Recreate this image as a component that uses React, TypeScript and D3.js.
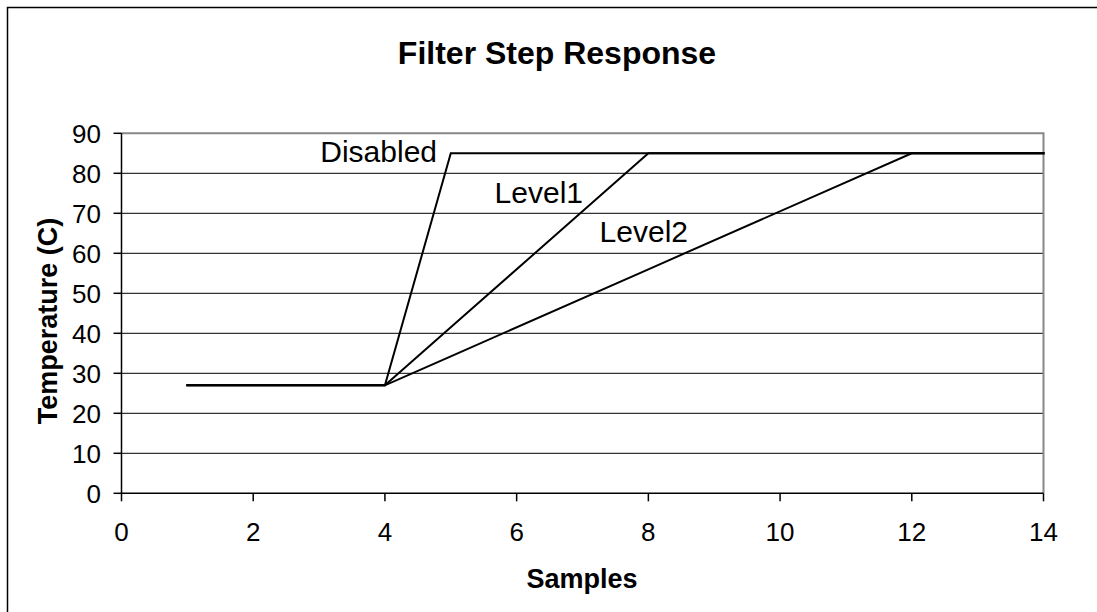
import * as d3 from "d3";

const W = 1097;
const H = 612;

// series: x = sample, y = temperature
const samples = [1, 4, 5, 8, 12, 14];
const disabled = [27, 27, 85, 85, 85, 85];
const level1 = [27, 27, 41.5, 85, 85, 85];
const level2 = [27, 27, 34.25, 56, 85, 85];
const seriesNames = ["Disabled", "Level1", "Level2"];
const seriesLabelPos = [
	{ x: 437, y: 162 },
	{ x: 583, y: 203 },
	{ x: 688, y: 242 },
];
const yTicks = [0, 10, 20, 30, 40, 50, 60, 70, 80, 90];
const xTicks = [0, 2, 4, 6, 8, 10, 12, 14];

const plot = { left: 121.5, right: 1043.5, top: 133.3, bottom: 493.3 };
const font = "'Liberation Sans', Arial, sans-serif";

export default function App() {
	const x = d3.scaleLinear().domain([0, 14]).range([plot.left, plot.right]);
	const y = d3.scaleLinear().domain([0, 90]).range([plot.bottom, plot.top]);

	const line = d3
		.line<[number, number]>()
		.x((d) => x(d[0]))
		.y((d) => y(d[1]));

	const series = [disabled, level1, level2].map((vals) =>
		samples.map((s, i) => [s, vals[i]] as [number, number]),
	);

	return (
		<svg
			width={W}
			height={H}
			style={{ position: "absolute", left: 0, top: 0, background: "#fff" }}
			fontFamily={font}
		>
			<rect x={0} y={0} width={W} height={H} fill="#fff" />
			{/* chart area frame, cut off at right and bottom */}
			<path d={`M7.5,${H}V7.5H${W}`} fill="none" stroke="#000" strokeWidth={1.5} />
			<text x={557} y={64} textAnchor="middle" fontSize={32} fontWeight="bold">
				Filter Step Response
			</text>

			{/* gridlines */}
			{yTicks.slice(1, -1).map((t) => (
				<line
					key={t}
					x1={plot.left}
					x2={plot.right}
					y1={y(t)}
					y2={y(t)}
					stroke="#000"
					strokeWidth={1}
				/>
			))}
			{/* plot border (top / right) */}
			<path
				d={`M${plot.left},${plot.top}H${plot.right}V${plot.bottom}`}
				fill="none"
				stroke="#888"
				strokeWidth={2}
			/>

			{/* y axis */}
			<line x1={plot.left} x2={plot.left} y1={plot.top} y2={plot.bottom} stroke="#000" strokeWidth={1.5} />
			{yTicks.map((t) => (
				<g key={t}>
					<line x1={plot.left - 8} x2={plot.left} y1={y(t)} y2={y(t)} stroke="#000" strokeWidth={1.5} />
					<text x={101} y={y(t) + 9.5} textAnchor="end" fontSize={26}>
						{t}
					</text>
				</g>
			))}

			{/* x axis */}
			<line x1={plot.left} x2={plot.right} y1={plot.bottom} y2={plot.bottom} stroke="#000" strokeWidth={1.5} />
			{xTicks.map((t) => (
				<g key={t}>
					<line x1={x(t)} x2={x(t)} y1={plot.bottom} y2={plot.bottom + 8} stroke="#000" strokeWidth={1.5} />
					<text x={x(t)} y={541} textAnchor="middle" fontSize={26}>
						{t}
					</text>
				</g>
			))}

			{/* series */}
			{series.map((s, i) => (
				<path
					key={i}
					d={line(s) ?? ""}
					fill="none"
					stroke="#000"
					strokeWidth={2}
					strokeLinecap="square"
				/>
			))}
			{seriesNames.map((n, i) => (
				<text key={n} x={seriesLabelPos[i].x} y={seriesLabelPos[i].y} textAnchor="end" fontSize={30}>
					{n}
				</text>
			))}

			<text x={582} y={588} textAnchor="middle" fontSize={27} fontWeight="bold">
				Samples
			</text>
			<text
				transform={`translate(57,321) rotate(-90)`}
				textAnchor="middle"
				fontSize={27}
				fontWeight="bold"
			>
				Temperature (C)
			</text>
		</svg>
	);
}
